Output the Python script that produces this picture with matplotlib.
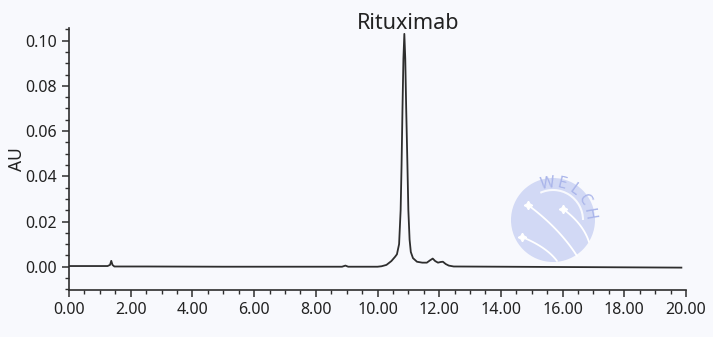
import numpy as np
import matplotlib.pyplot as plt
from matplotlib.patches import Circle, Arc

# chromatogram (time in min, absorbance in AU)
time_min = [0.00, 1.25, 1.33, 1.37, 1.41, 1.47, 2.50, 5.00, 8.85, 8.96, 9.05,
            10.00, 10.13, 10.29, 10.45, 10.57, 10.63, 10.70, 10.75, 10.78,
            10.81, 10.84, 10.87, 10.90, 10.93, 10.97, 11.00, 11.04, 11.08,
            11.15, 11.28, 11.45, 11.60, 11.70, 11.79, 11.87, 11.96, 12.05,
            12.12, 12.21, 12.31, 12.47, 14.00, 17.00, 19.85]
absorbance = [0.0003, 0.0003, 0.0008, 0.0026, 0.0008, 0.0001, 0.0001, 0.0000,
              0.0000, 0.0005, 0.0000, 0.0000, 0.0002, 0.0008, 0.0025, 0.0044,
              0.0055, 0.0100, 0.0250, 0.0450, 0.0700, 0.0920, 0.1030, 0.0920,
              0.0700, 0.0450, 0.0250, 0.0120, 0.0065, 0.0038, 0.0022, 0.0018,
              0.0018, 0.0028, 0.0036, 0.0025, 0.0018, 0.0021, 0.0022, 0.0012,
              0.0005, 0.0001, 0.0000, -0.0002, -0.0004]
peak_name = "Rituximab"
peak_time = 11.0
peak_height = 0.1030
x_ticks = [0, 2, 4, 6, 8, 10, 12, 14, 16, 18, 20]
y_ticks = [0.00, 0.02, 0.04, 0.06, 0.08, 0.10]

plt.rcParams['font.family'] = ['Noto Sans', 'DejaVu Sans']
bg = '#f8f9fd'
ink = '#2e2e2e'

fig = plt.figure(figsize=(7.13, 3.37), dpi=100, facecolor=bg)

# watermark (behind the trace)
wm = fig.add_axes([503/713, 67/337, 100/713, 100/337], zorder=0)
wm.set_xlim(-50, 50)
wm.set_ylim(-50, 50)
wm.set_aspect('equal')
wm.axis('off')
blue = '#d2d9f5'
wm.add_patch(Circle((0, 0), 42, color=blue, lw=0))
wm.add_patch(Arc((0, 0), 60, 60, theta1=0, theta2=115, color=bg, lw=1.5))
for sx, sy, ex, ey in [(-25, 15, 24, -36), (10, 11, 36, -22), (-31, -17, 4, -41)]:
    s = np.linspace(0, 1, 30)
    cx, cy = (sx + ex) / 2 + 7, (sy + ey) / 2 + 2
    px = (1 - s)**2 * sx + 2 * (1 - s) * s * cx + s**2 * ex
    py = (1 - s)**2 * sy + 2 * (1 - s) * s * cy + s**2 * ey
    wm.plot(px, py, color='white', lw=1.3, solid_capstyle='round')
    wm.plot(sx, sy, marker=(4, 1, 0), color='white', ms=6)
for i, ch in enumerate("WELCH"):
    ang = np.deg2rad(98 - i * 22)
    wm.text(36.5 * np.cos(ang), 36.5 * np.sin(ang), ch, color='#aab5ea',
            fontsize=11.5, fontweight='bold', ha='center', va='center',
            rotation=np.rad2deg(ang) - 90)

ax = fig.add_axes([69/713, 47/337, 617/713, 262/337], zorder=1)
ax.patch.set_visible(False)
ax.plot(time_min, absorbance, color=ink, lw=1.3)

ax.set_xlim(0, 20)
ax.set_ylim(-0.0103, 0.1056)
ax.set_xticks(x_ticks)
ax.set_xticklabels([f"{v:.2f}" for v in x_ticks])
ax.set_yticks(y_ticks)
ax.set_yticklabels([f"{v:.2f}" for v in y_ticks])
ax.set_xticks(np.arange(0, 20.01, 0.5), minor=True)
ax.set_yticks(np.arange(-0.01, 0.1051, 0.005), minor=True)

for side in ['top', 'right']:
    ax.spines[side].set_visible(False)
for side in ['left', 'bottom']:
    ax.spines[side].set_color(ink)
    ax.spines[side].set_linewidth(1.2)
ax.tick_params(which='major', length=5, width=1.1, color=ink,
               labelsize=11.5, labelcolor='#222222', pad=4)
ax.tick_params(which='minor', length=3, width=1.0, color=ink)

ax.set_ylabel("AU", fontsize=12.5, color='#222222', labelpad=-1)
ax.text(peak_time, peak_height + 0.0020, peak_name, ha='center', va='baseline',
        fontsize=15.5, color='#222222')

fig.savefig("out.png", dpi=100, facecolor=bg)
